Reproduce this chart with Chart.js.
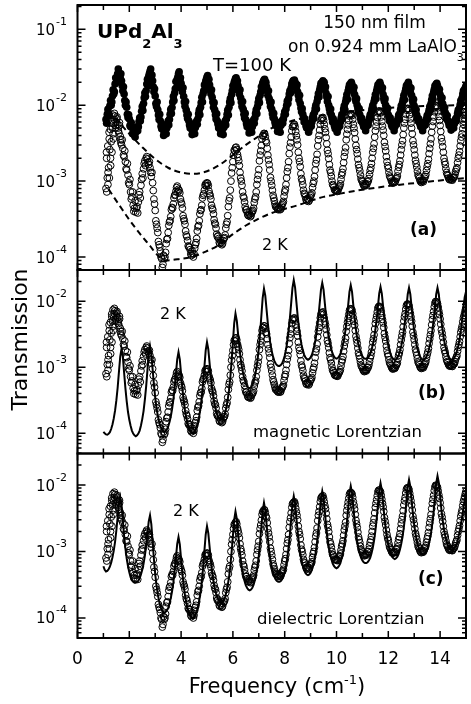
<!DOCTYPE html>
<html><head><meta charset="utf-8">
<script src="https://cdn.jsdelivr.net/npm/chart.js@4.4.1/dist/chart.umd.min.js"></script>
<style>
html,body{margin:0;padding:0;background:#fff;}
#wrap{position:relative;width:471px;height:704px;overflow:hidden;background:#fff;}
canvas{position:absolute;left:0;top:0;}
</style></head><body>
<div id="wrap">
<canvas id="ca" width="471" height="704"></canvas>
<canvas id="cb" width="471" height="704"></canvas>
<canvas id="cc" width="471" height="704"></canvas>
</div>
<script>
// ---------------- DATA ----------------
const STEP = 0.05;          // frequency sampling step (cm^-1)
const DATA_START = 1.10;    // first measured frequency, sweep 1
const DATA_START_B = 1.125; // first measured frequency, sweep 2
const FIT_START = 1.00;     // first fitted frequency

// 2 K transmission (open circles), sweep 1: 1.10 ... 15.00 cm^-1
const trans2K = [
 8.0e-4,1.1e-3,1.5e-3,2.6e-3,3.3e-3,5.0e-3,5.8e-3,7.2e-3,6.0e-3,5.6e-3,4.3e-3,3.9e-3,3.0e-3,2.7e-3,2.1e-3,1.8e-3,1.4e-3,1.2e-3,
 9.0e-4,7.2e-4,6.2e-4,4.8e-4,4.4e-4,3.9e-4,4.6e-4,5.3e-4,7.2e-4,8.8e-4,1.25e-3,1.45e-3,1.85e-3,2.0e-3,1.95e-3,1.65e-3,1.5e-3,1.15e-3,9.5e-4,5.8e-4,
 4.1e-4,2.7e-4,2.1e-4,1.45e-4,1.2e-4,9.5e-5,8.0e-5,9.5e-5,1.15e-4,1.7e-4,2.1e-4,2.9e-4,3.4e-4,4.5e-4,5.0e-4,6.5e-4,7.3e-4,8.6e-4,7.8e-4,7.0e-4,
 5.3e-4,4.4e-4,3.2e-4,2.7e-4,1.95e-4,1.65e-4,1.35e-4,1.25e-4,1.05e-4,1.1e-4,1.1e-4,1.45e-4,1.75e-4,2.5e-4,3.0e-4,4.1e-4,4.8e-4,6.5e-4,7.6e-4,9.2e-4,
 9.5e-4,8.7e-4,6.8e-4,5.8e-4,4.4e-4,3.7e-4,2.8e-4,2.4e-4,1.85e-4,1.75e-4,1.5e-4,1.55e-4,1.5e-4,1.75e-4,1.95e-4,2.7e-4,3.5e-4,5.5e-4,7.6e-4,1.28e-3,
 1.8e-3,2.55e-3,2.75e-3,2.6e-3,2.05e-3,1.6e-3,1.1e-3,8.8e-4,6.3e-4,5.3e-4,4.2e-4,3.9e-4,3.5e-4,3.6e-4,3.5e-4,3.95e-4,4.4e-4,5.8e-4,7.2e-4,1.05e-3,
 1.42e-3,2.2e-3,2.95e-3,3.95e-3,4.25e-3,3.85e-3,3.2e-3,2.2e-3,1.65e-3,1.12e-3,8.8e-4,6.5e-4,5.5e-4,4.6e-4,4.5e-4,4.2e-4,4.4e-4,4.3e-4,4.9e-4,5.4e-4,
 7.2e-4,9.0e-4,1.33e-3,1.8e-3,2.8e-3,3.8e-3,5.2e-3,5.5e-3,5.2e-3,3.95e-3,3.0e-3,2.0e-3,1.55e-3,1.08e-3,8.9e-4,6.9e-4,6.2e-4,5.5e-4,5.7e-4,5.6e-4,
 6.4e-4,7.0e-4,9.3e-4,1.15e-3,1.7e-3,2.25e-3,3.5e-3,4.7e-3,6.3e-3,6.7e-3,6.3e-3,4.9e-3,3.75e-3,2.55e-3,1.98e-3,1.4e-3,1.16e-3,9.0e-4,8.3e-4,7.5e-4,
 7.5e-4,7.4e-4,8.3e-4,9.2e-4,1.2e-3,1.45e-3,2.1e-3,2.75e-3,4.15e-3,5.5e-3,7.2e-3,7.7e-3,7.3e-3,5.6e-3,4.35e-3,2.95e-3,2.3e-3,1.65e-3,1.36e-3,1.07e-3,
 9.8e-4,8.8e-4,8.9e-4,8.8e-4,9.8e-4,1.08e-3,1.38e-3,1.7e-3,2.4e-3,3.1e-3,4.6e-3,6.0e-3,7.9e-3,8.4e-3,7.9e-3,6.1e-3,4.7e-3,3.25e-3,2.5e-3,1.8e-3,
 1.48e-3,1.17e-3,1.07e-3,9.6e-4,9.7e-4,9.6e-4,1.07e-3,1.17e-3,1.52e-3,1.85e-3,2.6e-3,3.4e-3,5.0e-3,6.5e-3,8.6e-3,9.1e-3,8.5e-3,6.6e-3,5.0e-3,3.4e-3,
 2.6e-3,1.88e-3,1.53e-3,1.2e-3,1.09e-3,9.8e-4,1.0e-3,9.8e-4,1.09e-3,1.22e-3,1.55e-3,1.93e-3,2.7e-3,3.6e-3,5.3e-3,7.0e-3,9.3e-3,9.8e-3,9.2e-3,7.1e-3,
 5.4e-3,3.7e-3,2.85e-3,2.0e-3,1.65e-3,1.3e-3,1.18e-3,1.06e-3,1.08e-3,1.04e-3,1.1e-3,1.13e-3,1.33e-3,1.5e-3,2.0e-3,2.45e-3,3.4e-3,4.2e-3,5.6e-3,6.7e-3,
 8.0e-3
];
// 2 K transmission, sweep 2: 1.125 ... 14.975 cm^-1
const trans2Kb = [
 2.0e-3,9.0e-4,3.6e-3,2.0e-3,5.8e-3,4.2e-3,7.8e-3,5.4e-3,7.0e-3,4.6e-3,5.4e-3,3.2e-3,3.5e-3,2.2e-3,2.5e-3,1.45e-3,1.7e-3,9.5e-4,
 1.05e-3,5.8e-4,7.2e-4,4.0e-4,5.5e-4,4.4e-4,3.8e-4,6.6e-4,6.0e-4,1.05e-3,1.1e-3,1.7e-3,1.6e-3,2.1e-3,1.75e-3,1.8e-3,1.3e-3,1.3e-3,7.5e-4,5.0e-4,
 3.0e-4,2.4e-4,1.6e-4,1.35e-4,1.0e-4,7.3e-5,1.05e-4,1.0e-4,1.5e-4,1.75e-4,2.6e-4,3.0e-4,4.2e-4,4.4e-4,6.0e-4,6.6e-4,8.2e-4,7.2e-4,7.5e-4,5.8e-4,
 5.0e-4,3.5e-4,3.0e-4,2.2e-4,1.85e-4,1.4e-4,1.35e-4,1.1e-4,1.2e-4,1.0e-4,1.3e-4,1.55e-4,2.2e-4,2.6e-4,3.7e-4,4.2e-4,6.0e-4,6.8e-4,8.8e-4,8.6e-4,
 9.3e-4,7.4e-4,6.4e-4,4.8e-4,4.2e-4,3.1e-4,2.7e-4,2.0e-4,1.9e-4,1.55e-4,1.65e-4,1.45e-4,1.65e-4,1.8e-4,2.4e-4,2.9e-4,4.6e-4,6.0e-4,1.0e-3,1.5e-3,
 2.2e-3,2.5e-3,2.8e-3,2.25e-3,1.85e-3,1.3e-3,1.0e-3,7.2e-4,6.0e-4,4.6e-4,4.2e-4,3.6e-4,3.8e-4,3.4e-4,3.8e-4,4.1e-4,5.2e-4,6.2e-4,9.0e-4,1.2e-3,
 1.85e-3,2.5e-3,3.6e-3,4.0e-3,4.2e-3,3.4e-3,2.7e-3,1.9e-3,1.4e-3,1.0e-3,7.6e-4,6.0e-4,5.0e-4,4.7e-4,4.3e-4,4.5e-4,4.2e-4,4.7e-4,5.1e-4,6.3e-4,
 7.8e-4,1.1e-3,1.5e-3,2.3e-3,3.2e-3,4.6e-3,5.3e-3,5.6e-3,4.5e-3,3.5e-3,2.4e-3,1.8e-3,1.25e-3,1.0e-3,7.6e-4,6.7e-4,5.7e-4,5.9e-4,5.4e-4,6.1e-4,
 6.6e-4,8.2e-4,1.0e-3,1.4e-3,1.9e-3,2.9e-3,4.0e-3,5.6e-3,6.6e-3,6.9e-3,5.6e-3,4.4e-3,3.1e-3,2.3e-3,1.65e-3,1.3e-3,1.0e-3,8.8e-4,7.7e-4,7.6e-4,
 7.3e-4,7.9e-4,8.6e-4,1.05e-3,1.3e-3,1.75e-3,2.4e-3,3.5e-3,4.8e-3,6.3e-3,7.6e-3,7.6e-3,6.5e-3,5.0e-3,3.6e-3,2.6e-3,1.95e-3,1.5e-3,1.2e-3,1.02e-3,
 9.2e-4,8.6e-4,9.1e-4,9.2e-4,1.0e-3,1.22e-3,1.5e-3,2.0e-3,2.7e-3,3.8e-3,5.3e-3,6.9e-3,8.3e-3,8.1e-3,7.0e-3,5.3e-3,4.0e-3,2.85e-3,2.1e-3,1.6e-3,
 1.3e-3,1.12e-3,1.0e-3,9.4e-4,9.9e-4,1.0e-3,1.1e-3,1.35e-3,1.65e-3,2.2e-3,3.0e-3,4.1e-3,5.8e-3,7.6e-3,9.0e-3,8.9e-3,7.5e-3,5.8e-3,4.2e-3,3.0e-3,
 2.2e-3,1.7e-3,1.35e-3,1.15e-3,1.02e-3,9.6e-4,1.02e-3,1.03e-3,1.15e-3,1.38e-3,1.7e-3,2.3e-3,3.1e-3,4.4e-3,6.1e-3,8.2e-3,9.9e-3,9.6e-3,8.2e-3,6.3e-3,
 4.5e-3,3.3e-3,2.4e-3,1.8e-3,1.45e-3,1.22e-3,1.1e-3,1.04e-3,1.07e-3,1.03e-3,1.12e-3,1.22e-3,1.42e-3,1.75e-3,2.2e-3,2.9e-3,3.8e-3,4.9e-3,6.1e-3,7.4e-3
];
// extra scattered 2 K readings at the low-frequency start (frequency, transmission)
const scatter2K = [
 [1.12,2.4e-3],[1.13,7.2e-4],[1.17,2.9e-3],[1.18,1.3e-3],[1.22,4.4e-3],[1.23,1.1e-3],[1.27,4.8e-3],[1.28,1.6e-3],
 [1.32,6.4e-3],[1.33,2.4e-3],[1.37,7.4e-3],[1.38,3.6e-3],[1.42,6.5e-3],[1.47,5.0e-3],[1.52,6.6e-3],[1.57,5.0e-3],
 [1.62,5.9e-3],[1.67,3.5e-3]
];
// 100 K transmission (filled circles), sweep 1: 1.10 ... 15.00 cm^-1
const trans100K = [
 6.5e-3,7.6e-3,7.8e-3,9.8e-3,1.0e-2,1.32e-2,1.4e-2,1.9e-2,2.0e-2,2.6e-2,2.7e-2,2.3e-2,2.1e-2,1.55e-2,1.4e-2,1.0e-2,9.4e-3,6.9e-3,
 6.6e-3,5.2e-3,5.1e-3,4.3e-3,4.6e-3,4.4e-3,5.2e-3,5.2e-3,6.8e-3,7.0e-3,9.6e-3,1.05e-2,1.45e-2,1.55e-2,2.2e-2,2.4e-2,2.8e-2,2.3e-2,2.1e-2,1.5e-2,
 1.32e-2,9.6e-3,8.7e-3,6.5e-3,6.2e-3,4.9e-3,4.8e-3,4.3e-3,4.9e-3,5.0e-3,6.2e-3,6.5e-3,8.8e-3,9.3e-3,1.3e-2,1.45e-2,2.05e-2,2.2e-2,2.6e-2,2.2e-2,
 1.95e-2,1.5e-2,1.3e-2,9.7e-3,8.6e-3,6.7e-3,6.2e-3,5.0e-3,4.9e-3,4.5e-3,4.9e-3,5.1e-3,6.2e-3,6.6e-3,8.6e-3,9.4e-3,1.27e-2,1.42e-2,1.85e-2,2.05e-2,
 2.35e-2,2.05e-2,1.85e-2,1.42e-2,1.27e-2,9.4e-3,8.6e-3,6.6e-3,6.2e-3,5.0e-3,4.9e-3,4.5e-3,4.9e-3,5.1e-3,6.2e-3,6.6e-3,8.6e-3,9.4e-3,1.22e-2,1.38e-2,
 1.8e-2,2.0e-2,2.25e-2,2.0e-2,1.8e-2,1.4e-2,1.25e-2,9.6e-3,8.8e-3,6.8e-3,6.4e-3,5.2e-3,5.1e-3,4.7e-3,5.1e-3,5.2e-3,6.4e-3,6.8e-3,8.7e-3,9.5e-3,
 1.22e-2,1.35e-2,1.75e-2,1.95e-2,2.15e-2,1.95e-2,1.75e-2,1.35e-2,1.22e-2,9.6e-3,8.8e-3,6.9e-3,6.6e-3,5.4e-3,5.4e-3,4.9e-3,5.3e-3,5.4e-3,6.3e-3,6.6e-3,
 8.2e-3,8.9e-3,1.13e-2,1.22e-2,1.55e-2,1.7e-2,2.0e-2,2.1e-2,2.0e-2,1.7e-2,1.5e-2,1.18e-2,1.05e-2,8.2e-3,7.6e-3,6.0e-3,5.9e-3,5.0e-3,5.1e-3,4.9e-3,
 5.8e-3,6.0e-3,7.4e-3,8.0e-3,1.0e-2,1.12e-2,1.42e-2,1.6e-2,1.95e-2,2.0e-2,1.9e-2,1.6e-2,1.42e-2,1.12e-2,1.0e-2,8.0e-3,7.4e-3,6.0e-3,5.8e-3,4.9e-3,
 5.2e-3,4.9e-3,5.8e-3,6.0e-3,7.3e-3,7.9e-3,9.8e-3,1.1e-2,1.38e-2,1.55e-2,1.85e-2,1.95e-2,1.85e-2,1.55e-2,1.38e-2,1.12e-2,1.0e-2,8.1e-3,7.5e-3,6.2e-3,
 6.0e-3,5.2e-3,5.4e-3,5.2e-3,6.0e-3,6.2e-3,7.5e-3,8.1e-3,1.0e-2,1.12e-2,1.38e-2,1.55e-2,1.85e-2,1.95e-2,1.85e-2,1.55e-2,1.38e-2,1.12e-2,1.0e-2,8.1e-3,
 7.5e-3,6.2e-3,6.0e-3,5.2e-3,5.4e-3,5.2e-3,6.0e-3,6.2e-3,7.4e-3,7.9e-3,9.8e-3,1.08e-2,1.35e-2,1.5e-2,1.82e-2,1.9e-2,1.82e-2,1.5e-2,1.35e-2,1.08e-2,
 9.8e-3,7.9e-3,7.4e-3,6.2e-3,6.0e-3,5.2e-3,5.4e-3,5.2e-3,6.0e-3,6.1e-3,7.3e-3,7.8e-3,9.6e-3,1.05e-2,1.33e-2,1.48e-2,1.8e-2,1.9e-2,1.8e-2,1.5e-2,
 1.38e-2,1.12e-2,1.04e-2,8.4e-3,8.0e-3,6.6e-3,6.3e-3,5.4e-3,5.5e-3,5.2e-3,5.5e-3,5.7e-3,6.6e-3,7.0e-3,8.6e-3,9.2e-3,1.15e-2,1.25e-2,1.55e-2,1.62e-2,
 1.8e-2
];
// 100 K transmission, sweep 2: 1.125 ... 14.975 cm^-1
const trans100Kb = [
 5.8e-3,8.8e-3,7.2e-3,1.15e-2,1.1e-2,1.6e-2,1.5e-2,2.3e-2,2.2e-2,3.0e-2,2.5e-2,2.6e-2,1.8e-2,1.75e-2,1.15e-2,1.1e-2,7.6e-3,7.5e-3,
 5.4e-3,5.9e-3,4.2e-3,4.8e-3,3.8e-3,5.0e-3,4.6e-3,6.1e-3,6.2e-3,8.3e-3,8.5e-3,1.25e-2,1.3e-2,1.9e-2,1.8e-2,2.6e-2,3.0e-2,2.5e-2,1.75e-2,1.65e-2,
 1.05e-2,1.1e-2,7.4e-3,7.6e-3,5.3e-3,5.6e-3,4.0e-3,4.6e-3,4.2e-3,5.6e-3,5.5e-3,7.6e-3,7.8e-3,1.1e-2,1.15e-2,1.65e-2,1.7e-2,2.35e-2,2.75e-2,2.3e-2,
 1.65e-2,1.7e-2,1.1e-2,1.12e-2,7.4e-3,7.6e-3,5.5e-3,5.7e-3,4.1e-3,4.6e-3,4.2e-3,5.7e-3,5.6e-3,7.7e-3,7.5e-3,1.08e-2,1.1e-2,1.55e-2,1.6e-2,2.2e-2,
 2.45e-2,2.2e-2,1.6e-2,1.6e-2,1.1e-2,1.08e-2,7.5e-3,7.7e-3,5.6e-3,5.7e-3,4.2e-3,4.6e-3,4.1e-3,5.7e-3,5.5e-3,7.6e-3,7.4e-3,1.1e-2,1.08e-2,1.55e-2,
 1.6e-2,2.1e-2,2.3e-2,2.1e-2,1.6e-2,1.6e-2,1.1e-2,1.12e-2,7.6e-3,7.8e-3,5.7e-3,5.9e-3,4.3e-3,4.7e-3,4.4e-3,5.9e-3,5.8e-3,7.8e-3,7.7e-3,1.08e-2,
 1.08e-2,1.5e-2,1.55e-2,2.05e-2,2.2e-2,2.0e-2,1.55e-2,1.55e-2,1.1e-2,1.1e-2,7.7e-3,7.8e-3,5.9e-3,6.0e-3,4.5e-3,4.8e-3,4.4e-3,6.0e-3,5.8e-3,7.4e-3,
 7.6e-3,1.0e-2,1.05e-2,1.4e-2,1.45e-2,1.9e-2,2.1e-2,2.15e-2,1.9e-2,1.85e-2,1.35e-2,1.35e-2,9.2e-3,9.0e-3,6.8e-3,6.6e-3,5.3e-3,5.4e-3,4.4e-3,5.5e-3,
 5.3e-3,6.8e-3,6.7e-3,9.0e-3,8.9e-3,1.25e-2,1.28e-2,1.75e-2,1.8e-2,2.1e-2,2.0e-2,1.75e-2,1.28e-2,1.3e-2,9.0e-3,8.9e-3,6.8e-3,6.6e-3,5.3e-3,5.5e-3,
 4.4e-3,5.4e-3,5.3e-3,6.7e-3,6.6e-3,8.9e-3,8.7e-3,1.22e-2,1.2e-2,1.7e-2,1.72e-2,2.0e-2,1.7e-2,1.72e-2,1.22e-2,1.22e-2,9.0e-3,9.0e-3,6.8e-3,6.7e-3,
 5.6e-3,5.7e-3,4.6e-3,5.6e-3,5.5e-3,6.8e-3,6.8e-3,9.1e-3,9.0e-3,1.22e-2,1.22e-2,1.7e-2,1.72e-2,2.0e-2,1.7e-2,1.7e-2,1.22e-2,1.22e-2,9.0e-3,9.1e-3,
 6.8e-3,6.8e-3,5.5e-3,5.6e-3,4.6e-3,5.7e-3,5.6e-3,6.7e-3,6.6e-3,8.8e-3,8.7e-3,1.2e-2,1.18e-2,1.65e-2,1.7e-2,2.0e-2,1.68e-2,1.68e-2,1.18e-2,1.2e-2,
 8.8e-3,8.7e-3,6.7e-3,6.6e-3,5.6e-3,5.6e-3,4.6e-3,5.8e-3,5.5e-3,6.6e-3,6.6e-3,8.6e-3,8.6e-3,1.18e-2,1.2e-2,1.62e-2,1.62e-2,1.95e-2,1.62e-2,1.62e-2,
 1.22e-2,1.25e-2,9.2e-3,9.3e-3,7.2e-3,7.3e-3,5.9e-3,6.0e-3,4.7e-3,5.9e-3,5.0e-3,6.1e-3,6.2e-3,7.8e-3,7.8e-3,1.02e-2,1.05e-2,1.4e-2,1.42e-2,1.7e-2
];
// magnetic Lorentzian fit (panel b), 1.00 ... 15.00 cm^-1
const magneticFit = [
 1.05e-4,1.0e-4,9.6e-5,9.5e-5,9.8e-5,1.04e-4,1.16e-4,1.36e-4,1.68e-4,2.2e-4,3.15e-4,4.9e-4,8.5e-4,1.45e-3,1.9e-3,1.45e-3,8.3e-4,4.8e-4,3.05e-4,2.1e-4,
 1.6e-4,1.3e-4,1.1e-4,9.9e-5,9.3e-5,9.0e-5,9.3e-5,9.9e-5,1.1e-4,1.31e-4,1.64e-4,2.17e-4,3.2e-4,5.1e-4,9.0e-4,1.58e-3,2.1e-3,1.6e-3,9.4e-4,5.5e-4,
 3.5e-4,2.43e-4,1.85e-4,1.5e-4,1.28e-4,1.15e-4,1.08e-4,1.05e-4,1.08e-4,1.14e-4,1.26e-4,1.47e-4,1.78e-4,2.3e-4,3.2e-4,4.85e-4,8.0e-4,1.32e-3,1.7e-3,1.32e-3,
 7.9e-4,4.75e-4,3.1e-4,2.2e-4,1.71e-4,1.4e-4,1.2e-4,1.09e-4,1.03e-4,1.0e-4,1.03e-4,1.1e-4,1.23e-4,1.47e-4,1.83e-4,2.43e-4,3.56e-4,5.7e-4,1.02e-3,1.8e-3,
 2.4e-3,1.88e-3,1.15e-3,7.1e-4,4.7e-4,3.4e-4,2.67e-4,2.2e-4,1.9e-4,1.73e-4,1.64e-4,1.6e-4,1.66e-4,1.79e-4,2.04e-4,2.5e-4,3.24e-4,4.5e-4,7.0e-4,1.23e-3,
 2.4e-3,4.65e-3,6.5e-3,5.1e-3,3.2e-3,2.0e-3,1.36e-3,9.95e-4,7.9e-4,6.6e-4,5.7e-4,5.2e-4,4.9e-4,4.8e-4,5.0e-4,5.3e-4,6.0e-4,7.3e-4,9.3e-4,1.27e-3,
 1.93e-3,3.25e-3,6.1e-3,1.13e-2,1.55e-2,1.22e-2,7.5e-3,4.6e-3,3.08e-3,2.23e-3,1.75e-3,1.45e-3,1.25e-3,1.14e-3,1.08e-3,1.05e-3,1.05e-3,1.08e-3,1.15e-3,1.28e-3,
 1.5e-3,1.85e-3,2.43e-3,3.5e-3,5.5e-3,9.4e-3,1.6e-2,2.1e-2,1.63e-2,9.9e-3,6.0e-3,3.95e-3,2.83e-3,2.2e-3,1.82e-3,1.56e-3,1.41e-3,1.34e-3,1.3e-3,1.34e-3,
 1.41e-3,1.55e-3,1.8e-3,2.16e-3,2.75e-3,3.8e-3,5.7e-3,9.2e-3,1.49e-2,1.9e-2,1.5e-2,9.3e-3,5.8e-3,3.9e-3,2.83e-3,2.23e-3,1.85e-3,1.6e-3,1.46e-3,1.38e-3,
 1.35e-3,1.38e-3,1.46e-3,1.59e-3,1.84e-3,2.19e-3,2.77e-3,3.76e-3,5.5e-3,8.7e-3,1.39e-2,1.75e-2,1.39e-2,8.7e-3,5.5e-3,3.76e-3,2.77e-3,2.19e-3,1.84e-3,1.59e-3,
 1.46e-3,1.38e-3,1.35e-3,1.35e-3,1.38e-3,1.46e-3,1.59e-3,1.82e-3,2.17e-3,2.72e-3,3.67e-3,5.3e-3,8.4e-3,1.32e-2,1.65e-2,1.31e-2,8.3e-3,5.3e-3,3.6e-3,2.65e-3,
 2.11e-3,1.76e-3,1.53e-3,1.4e-3,1.33e-3,1.3e-3,1.33e-3,1.4e-3,1.53e-3,1.76e-3,2.1e-3,2.62e-3,3.55e-3,5.2e-3,8.1e-3,1.28e-2,1.6e-2,1.28e-2,8.1e-3,5.2e-3,
 3.55e-3,2.62e-3,2.1e-3,1.76e-3,1.53e-3,1.4e-3,1.33e-3,1.3e-3,1.33e-3,1.4e-3,1.53e-3,1.76e-3,2.1e-3,2.62e-3,3.55e-3,5.2e-3,8.1e-3,1.28e-2,1.6e-2,1.28e-2,
 8.1e-3,5.2e-3,3.55e-3,2.62e-3,2.1e-3,1.76e-3,1.53e-3,1.4e-3,1.33e-3,1.3e-3,1.33e-3,1.4e-3,1.53e-3,1.76e-3,2.1e-3,2.62e-3,3.55e-3,5.2e-3,8.1e-3,1.15e-2,
 1.4e-2
];
// dielectric Lorentzian fit (panel c), 1.00 ... 15.00 cm^-1
const dielectricFit = [
 6.0e-4,5.3e-4,5.0e-4,5.1e-4,5.4e-4,5.9e-4,6.8e-4,8.2e-4,1.03e-3,1.4e-3,2.07e-3,3.3e-3,5.2e-3,6.6e-3,5.06e-3,2.96e-3,1.74e-3,1.11e-3,7.8e-4,6.0e-4,
 4.85e-4,4.1e-4,3.7e-4,3.5e-4,3.4e-4,3.4e-4,3.48e-4,3.64e-4,3.95e-4,4.5e-4,5.3e-4,6.5e-4,8.6e-4,1.22e-3,1.86e-3,2.84e-3,3.5e-3,2.58e-3,1.41e-3,7.7e-4,
 4.6e-4,3.1e-4,2.28e-4,1.8e-4,1.49e-4,1.33e-4,1.24e-4,1.2e-4,1.23e-4,1.3e-4,1.42e-4,1.64e-4,1.97e-4,2.5e-4,3.4e-4,5.1e-4,8.1e-4,1.3e-3,1.65e-3,1.28e-3,
 7.7e-4,4.67e-4,3.07e-4,2.19e-4,1.7e-4,1.4e-4,1.2e-4,1.09e-4,1.03e-4,1.0e-4,1.03e-4,1.1e-4,1.23e-4,1.47e-4,1.83e-4,2.43e-4,3.56e-4,5.7e-4,1.02e-3,1.8e-3,
 2.4e-3,1.89e-3,1.17e-3,7.3e-4,4.9e-4,3.56e-4,2.8e-4,2.33e-4,2.02e-4,1.84e-4,1.74e-4,1.7e-4,1.75e-4,1.87e-4,2.08e-4,2.48e-4,3.1e-4,4.1e-4,6.0e-4,9.7e-4,
 1.71e-3,3.0e-3,4.0e-3,3.13e-3,1.91e-3,1.17e-3,7.8e-4,5.6e-4,4.4e-4,3.6e-4,3.1e-4,2.82e-4,2.67e-4,2.6e-4,2.68e-4,2.85e-4,3.17e-4,3.74e-4,4.6e-4,6.1e-4,
 8.7e-4,1.38e-3,2.38e-3,4.1e-3,5.4e-3,4.2e-3,2.58e-3,1.57e-3,1.04e-3,7.5e-4,5.9e-4,4.86e-4,4.2e-4,3.8e-4,3.6e-4,3.5e-4,3.5e-4,3.6e-4,3.83e-4,4.25e-4,
 5.0e-4,6.15e-4,8.0e-4,1.15e-3,1.79e-3,3.05e-3,5.2e-3,6.8e-3,5.3e-3,3.25e-3,1.98e-3,1.32e-3,9.5e-4,7.4e-4,6.1e-4,5.25e-4,4.77e-4,4.5e-4,4.4e-4,4.5e-4,
 4.8e-4,5.3e-4,6.2e-4,7.6e-4,9.9e-4,1.41e-3,2.18e-3,3.68e-3,6.2e-3,8.1e-3,6.4e-3,3.94e-3,2.43e-3,1.63e-3,1.18e-3,9.3e-4,7.7e-4,6.65e-4,6.07e-4,5.75e-4,
 5.6e-4,5.75e-4,6.1e-4,6.7e-4,7.9e-4,9.6e-4,1.24e-3,1.75e-3,2.67e-3,4.45e-3,7.4e-3,9.6e-3,7.55e-3,4.68e-3,2.9e-3,1.94e-3,1.41e-3,1.11e-3,9.2e-4,8.0e-4,
 7.3e-4,6.9e-4,6.7e-4,6.7e-4,6.9e-4,7.3e-4,8.0e-4,9.3e-4,1.13e-3,1.46e-3,2.03e-3,3.08e-3,5.06e-3,8.3e-3,1.07e-2,8.4e-3,5.25e-3,3.27e-3,2.2e-3,1.61e-3,
 1.27e-3,1.05e-3,9.1e-4,8.3e-4,7.9e-4,7.7e-4,7.9e-4,8.35e-4,9.2e-4,1.07e-3,1.3e-3,1.66e-3,2.31e-3,3.48e-3,5.7e-3,9.4e-3,1.2e-2,9.5e-3,5.9e-3,3.72e-3,
 2.52e-3,1.84e-3,1.46e-3,1.22e-3,1.05e-3,9.6e-4,9.1e-4,8.9e-4,9.1e-4,9.7e-4,1.06e-3,1.24e-3,1.5e-3,1.91e-3,2.65e-3,4.0e-3,6.5e-3,1.07e-2,1.37e-2,1.09e-2,
 6.9e-3,4.3e-3,2.93e-3,2.15e-3,1.71e-3,1.43e-3,1.24e-3,1.13e-3,1.08e-3,1.05e-3,1.07e-3,1.12e-3,1.2e-3,1.35e-3,1.6e-3,1.95e-3,2.5e-3,3.3e-3,4.5e-3,6.0e-3,
 7.6e-3
];
// dashed envelopes of the 2 K data (panel a)
const upperEnvFreq = [1.2,1.6,2.0,2.5,3.0,3.5,4.0,4.5,5.0,5.5,6.0,6.5,7.0,7.5,8.0,8.5,9.0,9.5,10.0,11.0,12.0,13.0,14.0,15.0];
const upperEnvVal  = [8.6e-3,6.0e-3,4.2e-3,2.8e-3,1.95e-3,1.5e-3,1.3e-3,1.25e-3,1.35e-3,1.65e-3,2.2e-3,3.0e-3,3.9e-3,5.0e-3,5.8e-3,6.5e-3,7.0e-3,7.4e-3,7.8e-3,8.6e-3,9.2e-3,9.6e-3,9.9e-3,1.0e-2];
const lowerEnvFreq = [1.2,1.6,2.0,2.4,2.8,3.1,3.4,4.0,4.4,5.0,5.4,6.0,6.5,7.0,7.5,8.0,8.5,9.0,9.5,10.0,11.0,12.0,13.0,14.0,15.0];
const lowerEnvVal  = [7.8e-4,4.9e-4,3.1e-4,2.05e-4,1.4e-4,1.05e-4,9.0e-5,9.5e-5,1.0e-4,1.2e-4,1.4e-4,2.0e-4,2.6e-4,3.2e-4,3.8e-4,4.3e-4,4.8e-4,5.5e-4,6.2e-4,6.7e-4,7.7e-4,8.6e-4,9.4e-4,1.02e-3,1.1e-3];

// axis tick labels
const xTickLabels = ['0','2','4','6','8','10','12','14'];
const decadesA = [-1,-2,-3,-4];
const decadesBC = [-2,-3,-4];

// ---------------- helpers ----------------
const FONT = '"DejaVu Sans", "Liberation Sans", sans-serif';
function grid(start, vals){ return vals.map((v,i)=>({x: Math.round((start + i*STEP)*1000)/1000, y: v})); }
function pairs(fs, vs){ return fs.map((f,i)=>({x:f, y:vs[i]})); }
const pts2K = grid(DATA_START, trans2K).concat(grid(DATA_START_B, trans2Kb), scatter2K.map(p=>({x:p[0], y:p[1]})));
const pts100K = grid(DATA_START, trans100K).concat(grid(DATA_START_B, trans100Kb));

function rich(ctx, x, y, parts, align){
  let w = 0;
  for (const p of parts){ ctx.font = p[1]; w += ctx.measureText(p[0]).width; }
  let cx = align==='center' ? x - w/2 : (align==='right' ? x - w : x);
  ctx.textAlign = 'left'; ctx.textBaseline = 'alphabetic';
  for (const p of parts){ ctx.font = p[1]; ctx.fillText(p[0], cx, y + (p[2]||0)); cx += ctx.measureText(p[0]).width; }
}

const decoPlugin = {
  id: 'deco',
  afterDraw(chart, args, o){
    const ctx = chart.ctx, a = chart.chartArea, xs = chart.scales.x, ys = chart.scales.y;
    ctx.save();
    ctx.strokeStyle = '#000'; ctx.fillStyle = '#000';
    ctx.lineWidth = 1.5;
    ctx.beginPath();
    for (let v = 0; v <= 15; v++){
      const px = xs.getPixelForValue(v);
      const len = (v % 2 === 0) ? 7 : 5;
      ctx.moveTo(px, a.top); ctx.lineTo(px, a.top + len);
      ctx.moveTo(px, a.bottom); ctx.lineTo(px, a.bottom - len);
    }
    for (let d = -6; d <= 0; d++){
      for (let m = 1; m <= 9; m++){
        const v = m * Math.pow(10, d);
        if (v < ys.min || v > ys.max) continue;
        const py = ys.getPixelForValue(v);
        const len = (m === 1) ? 8 : 4;
        ctx.moveTo(a.left, py); ctx.lineTo(a.left + len, py);
        ctx.moveTo(a.right, py); ctx.lineTo(a.right - len, py);
      }
    }
    ctx.stroke();
    ctx.lineWidth = 2;
    ctx.strokeRect(a.left, a.top, a.right - a.left, a.bottom - a.top);
    for (const d of o.decades){
      const py = ys.getPixelForValue(Math.pow(10, d));
      ctx.font = '15px ' + FONT; ctx.textAlign = 'right'; ctx.textBaseline = 'alphabetic';
      ctx.fillText('10', 55, py + 5.5);
      ctx.font = '11px ' + FONT; ctx.textAlign = 'left';
      ctx.fillText(String(d), 56, py - 4.5);
    }
    if (o.xLabels){
      ctx.font = '17px ' + FONT; ctx.textAlign = 'center'; ctx.textBaseline = 'alphabetic';
      xTickLabels.forEach(t => ctx.fillText(t, xs.getPixelForValue(Number(t)), 664));
      rich(ctx, 277, 693, [['Frequency (cm', '21px ' + FONT], ['-1', '13px ' + FONT, -9], [')', '21px ' + FONT]], 'center');
      ctx.save();
      ctx.translate(27, 339.5); ctx.rotate(-Math.PI/2);
      ctx.font = '22px ' + FONT; ctx.textAlign = 'center'; ctx.textBaseline = 'alphabetic';
      ctx.fillText('Transmission', 0, 0);
      ctx.restore();
    }
    for (const t of o.texts){ rich(ctx, t.x, t.y, t.parts, t.align || 'left'); }
    ctx.restore();
  }
};

function makeChart(id, pad, ymin, ymax, datasets, deco){
  return new Chart(document.getElementById(id), {
    type: 'scatter',
    data: { datasets },
    options: {
      responsive: false, animation: false, devicePixelRatio: 1,
      layout: { padding: pad },
      plugins: { legend: {display:false}, tooltip: {enabled:false}, deco },
      scales: {
        x: { type: 'linear', min: 0, max: 15, display: false },
        y: { type: 'logarithmic', min: ymin, max: ymax, display: false }
      }
    },
    plugins: [decoPlugin]
  });
}

const openPts = (data) => ({ data, showLine: false, pointRadius: 3.4, pointBorderWidth: 1,
  pointBorderColor: '#000', pointBackgroundColor: 'rgba(255,255,255,0)' });
const fitLine = (data) => ({ data, showLine: true, pointRadius: 0, borderColor: '#000', borderWidth: 2, tension: 0 });
const dashLine = (data) => ({ data, showLine: true, pointRadius: 0, borderColor: '#000', borderWidth: 2,
  borderDash: [6, 4], tension: 0.4, cubicInterpolationMode: 'monotone' });

const B = 'bold ';
makeChart('ca', {left: 77.5, right: 1, top: 5, bottom: 704 - 270}, 6.745e-5, 0.2089, [
  dashLine(pairs(upperEnvFreq, upperEnvVal)),
  dashLine(pairs(lowerEnvFreq, lowerEnvVal)),
  openPts(pts2K),
  { data: pts100K, showLine: false, pointRadius: 3.8, pointBorderWidth: 0, pointBackgroundColor: '#000', pointBorderColor: '#000' }
], { decades: decadesA, xLabels: false, texts: [
  { x: 97, y: 38, parts: [['UPd', B + '20px ' + FONT], ['2', B + '13px ' + FONT, 10], ['Al', B + '20px ' + FONT], ['3', B + '13px ' + FONT, 10]] },
  { x: 374.5, y: 28, align: 'center', parts: [['150 nm film', '17px ' + FONT]] },
  { x: 288, y: 52, parts: [['on 0.924 mm LaAlO', '17px ' + FONT], ['3', '11px ' + FONT, 9]] },
  { x: 213, y: 71, parts: [['T=100 K', '18px ' + FONT]] },
  { x: 262, y: 250, parts: [['2 K', '16px ' + FONT]] },
  { x: 410, y: 235, parts: [['(a)', B + '17px ' + FONT]] }
]});
makeChart('cb', {left: 77.5, right: 1, top: 270, bottom: 704 - 453.5}, 4.94e-5, 0.02979, [
  fitLine(grid(FIT_START, magneticFit)),
  openPts(pts2K)
], { decades: decadesBC, xLabels: false, texts: [
  { x: 160, y: 319, parts: [['2 K', '16px ' + FONT]] },
  { x: 418, y: 398, parts: [['(b)', B + '17px ' + FONT]] },
  { x: 253, y: 437, parts: [['magnetic Lorentzian', '16.5px ' + FONT]] }
]});
makeChart('cc', {left: 77.5, right: 1, top: 453.5, bottom: 704 - 638}, 5.0e-5, 0.02978, [
  fitLine(grid(FIT_START, dielectricFit)),
  openPts(pts2K)
], { decades: decadesBC, xLabels: true, texts: [
  { x: 173, y: 516, parts: [['2 K', '16px ' + FONT]] },
  { x: 418, y: 583.5, parts: [['(c)', B + '17px ' + FONT]] },
  { x: 257, y: 624, parts: [['dielectric Lorentzian', '16.5px ' + FONT]] }
]});
</script></body></html>
